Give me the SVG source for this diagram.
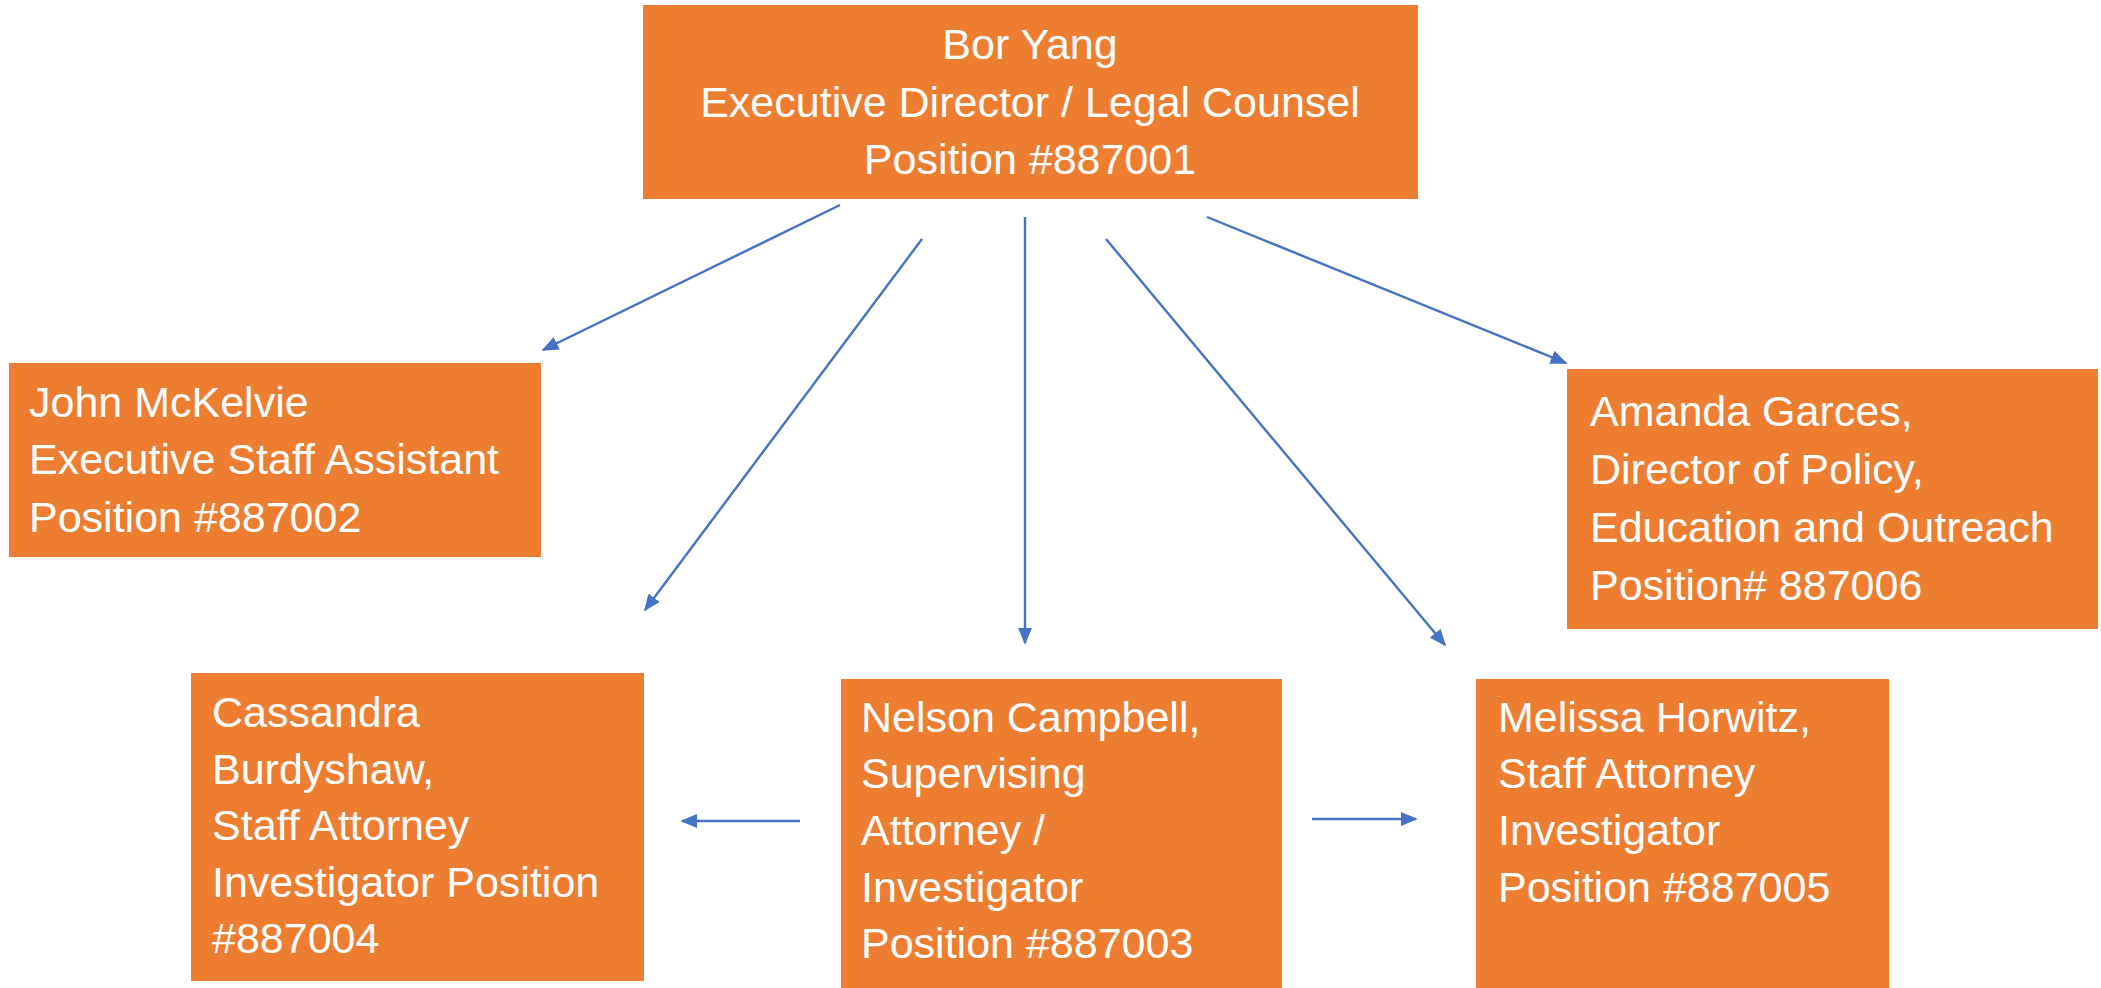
<svg xmlns="http://www.w3.org/2000/svg" width="2101" height="988" viewBox="0 0 2101 988">
<style>
.box{fill:#ED7D31}
.t{font-family:"Liberation Sans",Arial,sans-serif;font-size:43px;fill:#FFFFFF}
.c{text-anchor:middle}
.ln{stroke:#4472C4;stroke-width:2.4;fill:none}
</style>
<defs>
<marker id="ah" viewBox="0 0 10 10" refX="9" refY="5" markerWidth="17" markerHeight="14" markerUnits="userSpaceOnUse" orient="auto" preserveAspectRatio="none">
<path d="M0,0 L10,5 L0,10 z" fill="#4472C4"/>
</marker>
</defs>
<rect width="2101" height="988" fill="#FFFFFF"/>
<g id="connectors">
<line class="ln" x1="840" y1="205" x2="543" y2="350" marker-end="url(#ah)"/>
<line class="ln" x1="922" y1="239" x2="645" y2="610" marker-end="url(#ah)"/>
<line class="ln" x1="1025" y1="217" x2="1025" y2="643" marker-end="url(#ah)"/>
<line class="ln" x1="1106" y1="239" x2="1445" y2="645" marker-end="url(#ah)"/>
<line class="ln" x1="1207" y1="217" x2="1566" y2="363" marker-end="url(#ah)"/>
<line class="ln" x1="800" y1="821" x2="682" y2="821" marker-end="url(#ah)"/>
<line class="ln" x1="1312" y1="819" x2="1416" y2="819" marker-end="url(#ah)"/>
</g>
<g id="node-bor-yang">
<rect class="box" x="643" y="5" width="775" height="194"/>
<text class="t c" x="1030" y="59">Bor Yang</text>
<text class="t c" x="1030" y="117">Executive Director / Legal Counsel</text>
<text class="t c" x="1030" y="174">Position #887001</text>
</g>
<g id="node-john-mckelvie">
<rect class="box" x="9" y="363" width="532" height="194"/>
<text class="t" x="29" y="417">John McKelvie</text>
<text class="t" x="29" y="474">Executive Staff Assistant</text>
<text class="t" x="29" y="532">Position #887002</text>
</g>
<g id="node-amanda-garces">
<rect class="box" x="1567" y="369" width="531" height="260"/>
<text class="t" x="1590" y="426">Amanda Garces,</text>
<text class="t" x="1590" y="484">Director of Policy,</text>
<text class="t" x="1590" y="542">Education and Outreach</text>
<text class="t" x="1590" y="600">Position# 887006</text>
</g>
<g id="node-cassandra-burdyshaw">
<rect class="box" x="191" y="673" width="453" height="308"/>
<text class="t" x="212" y="727">Cassandra</text>
<text class="t" x="212" y="784">Burdyshaw,</text>
<text class="t" x="212" y="840">Staff Attorney</text>
<text class="t" x="212" y="897">Investigator Position</text>
<text class="t" x="212" y="953">#887004</text>
</g>
<g id="node-nelson-campbell">
<rect class="box" x="841" y="679" width="441" height="309"/>
<text class="t" x="861" y="732">Nelson Campbell,</text>
<text class="t" x="861" y="788">Supervising</text>
<text class="t" x="861" y="845">Attorney /</text>
<text class="t" x="861" y="902">Investigator</text>
<text class="t" x="861" y="958">Position #887003</text>
</g>
<g id="node-melissa-horwitz">
<rect class="box" x="1476" y="679" width="413" height="309"/>
<text class="t" x="1498" y="732">Melissa Horwitz,</text>
<text class="t" x="1498" y="788">Staff Attorney</text>
<text class="t" x="1498" y="845">Investigator</text>
<text class="t" x="1498" y="902">Position #887005</text>
</g>
</svg>
